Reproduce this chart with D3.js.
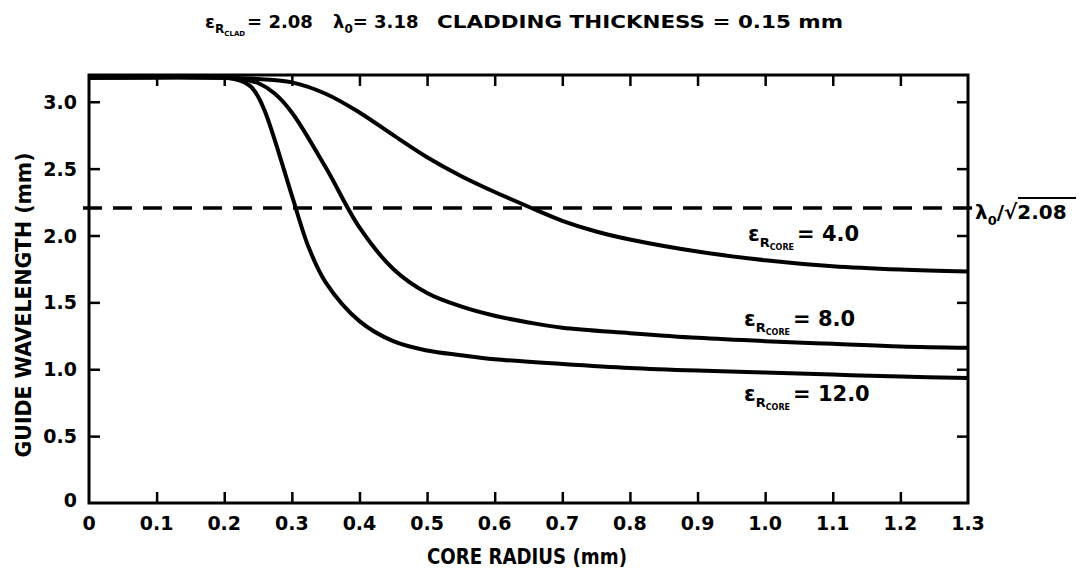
<!DOCTYPE html>
<html><head><meta charset="utf-8">
<script src="https://cdn.jsdelivr.net/npm/d3@7"></script>
<style>body{margin:0;background:#fff}svg text{font-family:"DejaVu Sans",sans-serif;font-weight:bold;fill:#000}</style>
</head><body><svg id="c" width="1085" height="578"></svg>
<script>
// ---- data ----
const xTicks = [0,0.1,0.2,0.3,0.4,0.5,0.6,0.7,0.8,0.9,1.0,1.1,1.2,1.3];
const xTickLabels = ["0","0.1","0.2","0.3","0.4","0.5","0.6","0.7","0.8","0.9","1.0","1.1","1.2","1.3"];
const yTicks = [0,0.5,1.0,1.5,2.0,2.5,3.0];
const yTickLabels = ["0","0.5","1.0","1.5","2.0","2.5","3.0"];

const radiusEps4 = [0,0.2,0.25,0.3,0.35,0.4,0.45,0.5,0.55,0.6,0.65,0.7,0.75,0.8,0.9,1.0,1.1,1.2,1.3];
const waveEps4   = [3.18,3.18,3.17,3.145,3.06,2.92,2.75,2.585,2.445,2.325,2.215,2.11,2.03,1.97,1.88,1.815,1.77,1.745,1.73];

const radiusEps8 = [0,0.2,0.225,0.25,0.275,0.3,0.35,0.4,0.45,0.5,0.55,0.6,0.65,0.7,0.8,0.9,1.0,1.1,1.2,1.3];
const waveEps8   = [3.18,3.18,3.17,3.14,3.06,2.92,2.51,2.06,1.75,1.57,1.47,1.40,1.35,1.31,1.27,1.235,1.21,1.19,1.17,1.16];

const radiusEps12 = [0,0.2,0.215,0.23,0.24,0.25,0.26,0.275,0.3,0.325,0.35,0.4,0.45,0.5,0.55,0.6,0.7,0.8,0.9,1.0,1.1,1.2,1.3];
const waveEps12   = [3.18,3.18,3.17,3.145,3.11,3.04,2.93,2.71,2.30,1.91,1.65,1.36,1.21,1.14,1.105,1.075,1.04,1.01,0.99,0.975,0.96,0.945,0.935];

const seriesLabels = ["4.0","8.0","12.0"];
const cutoffWave = 3.18/Math.sqrt(2.08);

// ---- chart ----
const svg = d3.select("#c");
const L=89, R=968, T=75, B=503;
const x = d3.scaleLinear().domain([0,1.3]).range([L,R]);
const y = d3.scaleLinear().domain([0,3.2]).range([B,T]);
const TL = 11;

const g = svg.append("g");
g.append("rect").attr("x",L).attr("y",T).attr("width",R-L).attr("height",B-T)
 .attr("fill","none").attr("stroke","#000").attr("stroke-width",3);

function styleAxis(sel){ sel.select(".domain").remove(); sel.selectAll("line").attr("stroke","#000").attr("stroke-width",2.5); sel.selectAll("text").remove(); }
g.append("g").attr("transform",`translate(0,${B})`).call(d3.axisTop(x).tickValues(xTicks.slice(1,-1)).tickSize(TL)).call(styleAxis);
g.append("g").attr("transform",`translate(0,${T})`).call(d3.axisBottom(x).tickValues(xTicks.slice(1,-1)).tickSize(TL)).call(styleAxis);
g.append("g").attr("transform",`translate(${L},0)`).call(d3.axisRight(y).tickValues(yTicks.slice(1)).tickSize(TL)).call(styleAxis);
g.append("g").attr("transform",`translate(${R},0)`).call(d3.axisLeft(y).tickValues(yTicks.slice(1)).tickSize(TL)).call(styleAxis);

// tick labels
svg.append("g").selectAll("text").data(xTicks).join("text")
 .attr("x",d=>x(d)).attr("y",530).attr("text-anchor","middle").attr("font-size",19)
 .text((d,i)=>xTickLabels[i]);
svg.append("g").selectAll("text").data(yTicks).join("text")
 .attr("x",77).attr("y",d=>y(d)+ (d===0?4:7)).attr("text-anchor","end").attr("font-size",19)
 .text((d,i)=>yTickLabels[i]);

// axis titles
svg.append("text").attr("x",527).attr("y",564).attr("text-anchor","middle").attr("font-size",21)
 .attr("textLength",200).attr("lengthAdjust","spacingAndGlyphs").text("CORE RADIUS (mm)");
svg.append("text").attr("transform","translate(31,305) rotate(-90)").attr("text-anchor","middle").attr("font-size",21)
 .attr("textLength",305).attr("lengthAdjust","spacingAndGlyphs").text("GUIDE WAVELENGTH (mm)");

// dashed cutoff line
svg.append("line").attr("x1",L-6).attr("x2",R+4).attr("y1",y(cutoffWave)).attr("y2",y(cutoffWave))
 .attr("stroke","#000").attr("stroke-width",3.5).attr("stroke-dasharray","19,11");

// curves
const line = d3.line().x(d=>x(d[0])).y(d=>y(d[1])).curve(d3.curveCatmullRom.alpha(0.5));
[[radiusEps4,waveEps4],[radiusEps8,waveEps8],[radiusEps12,waveEps12]].forEach(([rs,ws])=>{
  svg.append("path").datum(rs.map((r,i)=>[r,ws[i]])).attr("d",line)
   .attr("fill","none").attr("stroke","#000").attr("stroke-width",4).attr("stroke-linejoin","round");
});

// curve labels
function epsLabel(px,py,sub,val){
  const t = svg.append("text").attr("x",px).attr("y",py).attr("font-size",21);
  t.append("tspan").text("ε");
  t.append("tspan").attr("font-size",13).attr("dy",6).text("R");
  t.append("tspan").attr("font-size",8).attr("dy",3).text(sub);
  t.append("tspan").attr("font-size",21).attr("dy",-9).attr("dx",3).text("= "+val);
}
epsLabel(748,241,"CORE",seriesLabels[0]);
epsLabel(744,326,"CORE",seriesLabels[1]);
epsLabel(744,401,"CORE",seriesLabels[2]);

// cutoff label λ0/√2.08
const cl = svg.append("text").attr("x",975).attr("y",219).attr("font-size",20);
cl.append("tspan").text("λ");
cl.append("tspan").attr("font-size",13).attr("dy",6).text("0");
cl.append("tspan").attr("dy",-6).text("/√2.08");
svg.append("line").attr("x1",1018).attr("x2",1076).attr("y1",198).attr("y2",198).attr("stroke","#000").attr("stroke-width",2);

// title
const t1 = svg.append("text").attr("x",205).attr("y",28).attr("font-size",18);
t1.append("tspan").text("ε");
t1.append("tspan").attr("font-size",12).attr("dy",5).text("R");
t1.append("tspan").attr("font-size",7).attr("dy",3).text("CLAD");
t1.append("tspan").attr("dy",-8).attr("dx",2).text("= 2.08");
const t2 = svg.append("text").attr("x",333).attr("y",28).attr("font-size",18);
t2.append("tspan").text("λ");
t2.append("tspan").attr("font-size",12).attr("dy",5).text("0");
t2.append("tspan").attr("dy",-5).text("= 3.18");
svg.append("text").attr("x",437).attr("y",28).attr("font-size",18)
 .attr("textLength",406).attr("lengthAdjust","spacingAndGlyphs").text("CLADDING THICKNESS = 0.15 mm");
</script></body></html>
